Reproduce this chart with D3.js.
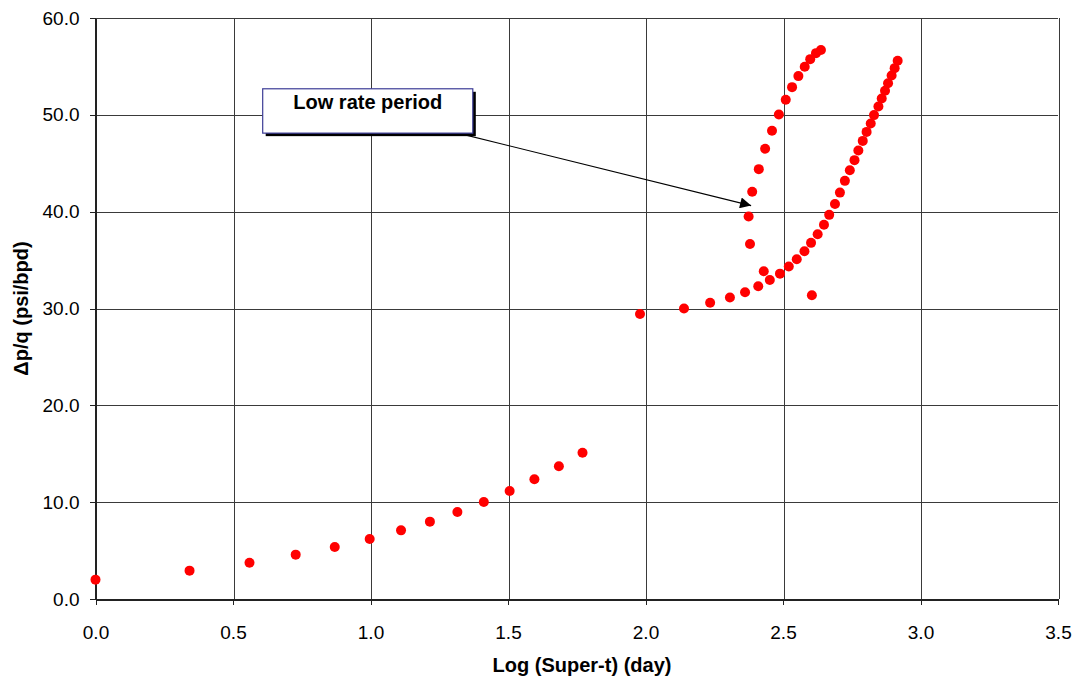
<!DOCTYPE html>
<html lang="en">
<head>
<meta charset="utf-8">
<title>Super-t plot</title>
<script src="https://d3js.org/d3.v7.min.js"></script>
<style>
  body { margin: 0; background: #fff; }
  .grid line { stroke: #3a3a3a; stroke-width: 1px; shape-rendering: crispEdges; }
  .axis path, .axis line { stroke: #222; shape-rendering: crispEdges; }
  .axis text { font: 19px "Liberation Sans", Arial, sans-serif; fill: #000; }
  .title { font: bold 20px "Liberation Sans", Arial, sans-serif; fill: #000; }
  .dot { fill: #ff0000; }
</style>
</head>
<body>
<svg width="1078" height="679"></svg>
<script>
// log(super-t) vs dp/q, main flow periods
var mainX = [0.0, 0.342, 0.560, 0.728, 0.870, 0.997, 1.111, 1.216, 1.316, 1.412, 1.506, 1.596, 1.685, 1.771,
  1.980, 2.140, 2.235, 2.307, 2.362, 2.410, 2.452, 2.489, 2.521, 2.550, 2.578, 2.602, 2.626, 2.649, 2.668,
  2.689, 2.707, 2.725, 2.743, 2.760, 2.774, 2.790, 2.804, 2.819, 2.831, 2.847, 2.859, 2.871, 2.882, 2.895,
  2.906, 2.917];
var mainY = [2.0, 2.93, 3.75, 4.58, 5.37, 6.2, 7.09, 7.99, 8.99, 10.02, 11.16, 12.36, 13.7, 15.1,
  29.44, 30.0, 30.6, 31.13, 31.68, 32.3, 32.95, 33.6, 34.33, 35.09, 35.92, 36.78, 37.67, 38.64, 39.67,
  40.8, 41.97, 43.18, 44.28, 45.32, 46.31, 47.31, 48.24, 49.1, 49.97, 50.86, 51.68, 52.48, 53.27, 54.06,
  54.82, 55.58];
// low rate period
var lowRateX = [2.430, 2.605, 2.380, 2.375, 2.388, 2.412, 2.435, 2.460, 2.485, 2.510, 2.533, 2.556, 2.579, 2.599, 2.620, 2.638];
var lowRateY = [33.85, 31.37, 36.67, 39.5, 42.05, 44.39, 46.49, 48.35, 50.03, 51.55, 52.86, 54.0, 54.96, 55.75, 56.37, 56.7];

var xTicks = [0, 0.5, 1, 1.5, 2, 2.5, 3, 3.5];
var yTicks = [0, 10, 20, 30, 40, 50, 60];

var svg = d3.select("svg"),
    margin = {top: 18, right: 20, bottom: 80, left: 95.5},
    width = 1078 - margin.left - margin.right,
    height = 679 - margin.top - margin.bottom;

var x = d3.scaleLinear().domain([0, 3.5]).range([0, width]);
var y = d3.scaleLinear().domain([0, 60]).range([height, 0]);

var g = svg.append("g").attr("transform", "translate(" + margin.left + "," + margin.top + ")");

// gridlines
var grid = g.append("g").attr("class", "grid");
grid.selectAll(".gx").data(xTicks.slice(1)).enter().append("line")
  .attr("x1", d => Math.round(x(d)) + 0.5).attr("x2", d => Math.round(x(d)) + 0.5)
  .attr("y1", 0).attr("y2", height);
grid.selectAll(".gy").data(yTicks.slice(1)).enter().append("line")
  .attr("x1", 0).attr("x2", width)
  .attr("y1", d => Math.round(y(d)) + 0.5).attr("y2", d => Math.round(y(d)) + 0.5);

// axes
g.append("g").attr("class", "axis")
  .attr("transform", "translate(0," + height + ")")
  .call(d3.axisBottom(x).tickValues(xTicks).tickFormat(d3.format(".1f")).tickSize(6).tickPadding(21).tickSizeOuter(0))
  .call(a => a.select(".domain").attr("stroke-width", 2));
g.append("g").attr("class", "axis")
  .call(d3.axisLeft(y).tickValues(yTicks).tickFormat(d3.format(".1f")).tickSize(6).tickPadding(10).tickSizeOuter(0))
  .call(a => a.select(".domain").attr("stroke-width", 1.5));

// points
var pts = mainX.map((d, i) => [d, mainY[i]]).concat(lowRateX.map((d, i) => [d, lowRateY[i]]));
g.selectAll(".dot").data(pts).enter().append("circle")
  .attr("class", "dot")
  .attr("cx", d => x(d[0])).attr("cy", d => y(d[1])).attr("r", 5);

// annotation
var box = {x0: 0.608, x1: 1.372, y0: 52.69, y1: 48.11};
var tip = [2.384, 40.63], from = [1.318, 48.11];

svg.append("defs").append("marker")
  .attr("id", "arrow").attr("viewBox", "0 0 10 10")
  .attr("refX", 10).attr("refY", 5)
  .attr("markerWidth", 15).attr("markerHeight", 11)
  .attr("markerUnits", "userSpaceOnUse")
  .attr("orient", "auto")
  .append("path").attr("d", "M0,0L10,5L0,10z").attr("fill", "#000");

g.append("line")
  .attr("x1", x(from[0])).attr("y1", y(from[1]))
  .attr("x2", x(tip[0])).attr("y2", y(tip[1]))
  .attr("stroke", "#000").attr("stroke-width", 1.2)
  .attr("marker-end", "url(#arrow)");

g.append("rect")
  .attr("x", x(box.x0) + 3).attr("y", y(box.y0) + 3)
  .attr("width", x(box.x1) - x(box.x0)).attr("height", y(box.y1) - y(box.y0))
  .attr("fill", "#000");
g.append("rect")
  .attr("x", x(box.x0)).attr("y", y(box.y0))
  .attr("width", x(box.x1) - x(box.x0)).attr("height", y(box.y1) - y(box.y0))
  .attr("fill", "#fff").attr("stroke", "#3c3c96").attr("stroke-width", 1.2);
g.append("text").attr("class", "title")
  .attr("x", (x(box.x0) + x(box.x1)) / 2).attr("y", y(box.y0) + 20)
  .attr("text-anchor", "middle")
  .text("Low rate period");

// axis titles
svg.append("text").attr("class", "title")
  .attr("x", 582).attr("y", 672)
  .attr("text-anchor", "middle")
  .text("Log (Super-t) (day)");
svg.append("text").attr("class", "title")
  .attr("transform", "translate(28," + (margin.top + height / 2) + ") rotate(-90)")
  .attr("text-anchor", "middle")
  .text("Δp/q (psi/bpd)");
</script>
</body>
</html>
